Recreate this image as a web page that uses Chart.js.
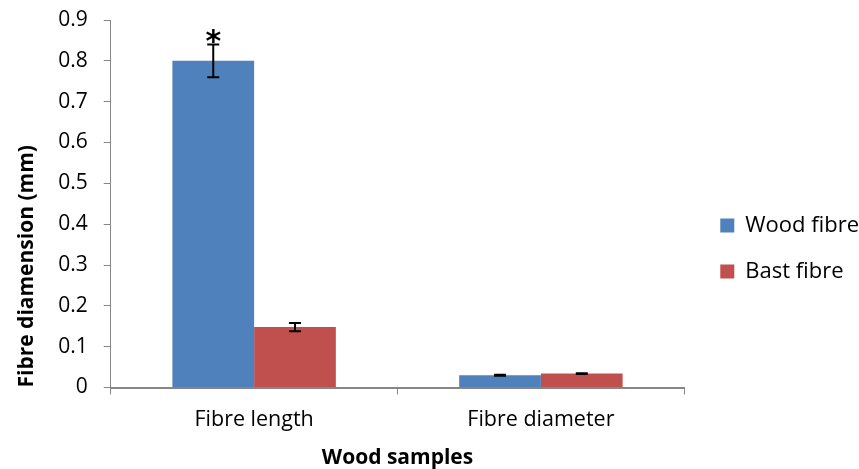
<!DOCTYPE html>
<html>
<head>
<meta charset="utf-8">
<script src="https://cdn.jsdelivr.net/npm/chart.js@4"></script>
<style>
  html, body { margin: 0; padding: 0; background: #fff; }
  #wrap { width: 859px; height: 469px; }
</style>
</head>
<body>
<div id="wrap"><canvas id="fibre-chart" width="859" height="469"></canvas></div>
<script>
const categories = ["Fibre length", "Fibre diameter"];
const woodFibre = [0.8, 0.03];
const bastFibre = [0.148, 0.034];
const woodError = [0.04, 0.001];
const bastError = [0.01, 0.001];
const woodMarks = ["*", ""];
const bastMarks = ["", ""];
const yTicks = [0, 0.1, 0.2, 0.3, 0.4, 0.5, 0.6, 0.7, 0.8, 0.9];

const FONT = "'Open Sans', Lato, sans-serif";
const AXIS_GREY = "#868686";

// draws the error bars and the significance mark on top of each bar
const errorBars = {
  id: "errorBars",
  afterDatasetsDraw(chart) {
    const ctx = chart.ctx;
    const y = chart.scales.y;
    chart.data.datasets.forEach((ds, i) => {
      const meta = chart.getDatasetMeta(i);
      meta.data.forEach((bar, j) => {
        const v = ds.data[j];
        const e = ds.errors[j];
        const top = y.getPixelForValue(v + e);
        const bottom = y.getPixelForValue(v - e);
        ctx.save();
        ctx.strokeStyle = "#000";
        ctx.lineWidth = 2;
        ctx.beginPath();
        ctx.moveTo(bar.x, top);
        ctx.lineTo(bar.x, bottom);
        ctx.moveTo(bar.x - 6, top);
        ctx.lineTo(bar.x + 6, top);
        ctx.moveTo(bar.x - 6, bottom);
        ctx.lineTo(bar.x + 6, bottom);
        ctx.stroke();
        if (ds.marks[j]) {
          ctx.fillStyle = "#000";
          ctx.font = "bold 30px 'DejaVu Sans', sans-serif";
          ctx.textAlign = "center";
          ctx.textBaseline = "alphabetic";
          ctx.fillText(ds.marks[j], bar.x, top + 6);
        }
        ctx.restore();
      });
    });
  }
};

// nudge the legend block towards the right edge, like the original
const legendNudge = {
  id: "legendNudge",
  afterLayout(chart) {
    const lg = chart.legend;
    lg.left += 12;
    lg.right += 12;
    lg.top += 4;
    lg.bottom += 4;
  }
};

new Chart(document.getElementById("fibre-chart").getContext("2d"), {
  type: "bar",
  data: {
    labels: categories,
    datasets: [
      {
        label: "Wood fibre",
        data: woodFibre,
        errors: woodError,
        marks: woodMarks,
        backgroundColor: "#4F81BD",
        categoryPercentage: 0.57,
        barPercentage: 1.0,
      },
      {
        label: "Bast fibre",
        data: bastFibre,
        errors: bastError,
        marks: bastMarks,
        backgroundColor: "#C0504D",
        categoryPercentage: 0.57,
        barPercentage: 1.0,
      },
    ],
  },
  options: {
    responsive: false,
    animation: false,
    layout: { padding: { top: 20, left: 14, right: 2, bottom: 0 } },
    plugins: {
      legend: {
        position: "right",
        labels: {
          boxWidth: 14,
          boxHeight: 14,
          padding: 24,
          color: "#000",
          font: { family: FONT, size: 22 },
        },
      },
      tooltip: { enabled: false },
    },
    scales: {
      x: {
        grid: {
          offset: true,
          drawOnChartArea: false,
          color: AXIS_GREY,
          tickLength: 7,
        },
        border: { color: AXIS_GREY, width: 2 },
        ticks: { color: "#000", padding: 15, font: { family: FONT, size: 21.5, lineHeight: 1 } },
        title: {
          display: true,
          text: "Wood samples",
          color: "#000",
          padding: { top: 2, bottom: 0 },
          font: { family: FONT, size: 21, weight: "bold", lineHeight: 1 },
        },
      },
      y: {
        min: 0,
        max: 0.9,
        afterBuildTicks(axis) {
          axis.ticks = yTicks.map((v) => ({ value: v }));
        },
        afterFit(axis) {
          // the label padding should not push the plot area down
          axis.paddingTop = 0;
        },
        grid: {
          drawOnChartArea: false,
          color: AXIS_GREY,
          tickLength: 7,
        },
        border: { color: AXIS_GREY, width: 1 },
        ticks: {
          color: "#000",
          padding: 16,
          font: { family: FONT, size: 21, lineHeight: 1 },
          callback: (v) => String(+v.toFixed(1)),
        },
        title: {
          display: true,
          text: "Fibre diamension (mm)",
          align: "start",
          color: "#000",
          padding: { top: 0, bottom: 3 },
          font: { family: FONT, size: 21, weight: "bold", lineHeight: 1.2 },
        },
      },
    },
  },
  plugins: [errorBars, legendNudge],
});
</script>
</body>
</html>
